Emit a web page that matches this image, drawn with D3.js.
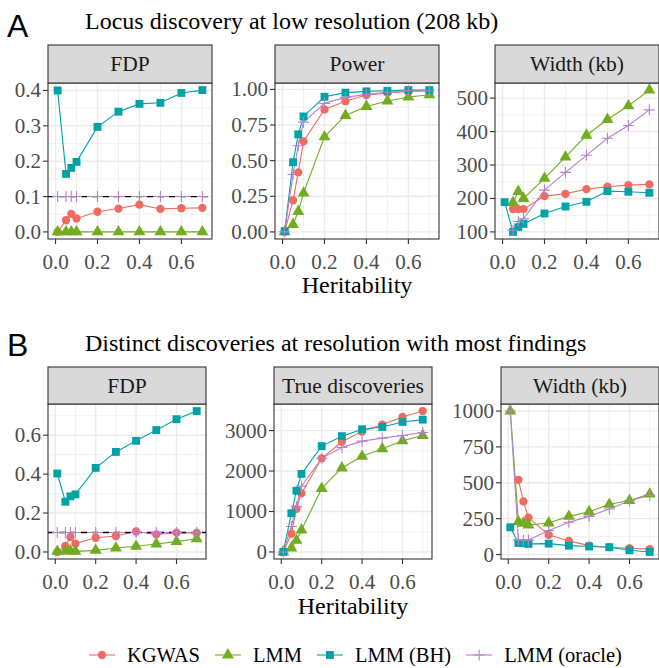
<!DOCTYPE html>
<html>
<head>
<meta charset="utf-8">
<script src="https://cdn.jsdelivr.net/npm/d3@7"></script>
<style>
  html, body { margin: 0; padding: 0; background: #fff; }
  svg { display: block; }
</style>
</head>
<body>
<svg id="chart" width="659" height="668"></svg>
<script>
// ---------------- DATA ----------------
const heritability = [0.01, 0.05, 0.075, 0.1, 0.2, 0.3, 0.4, 0.5, 0.6, 0.7];
const methods = ["KGWAS", "LMM", "LMM (BH)", "LMM (oracle)"];
const nominalFdr = 0.1;

// Row A: locus discovery at low resolution (208 kb); rows follow `methods`
const lowFdp = [
  [0.0, 0.033, 0.051, 0.038, 0.057, 0.066, 0.077, 0.065, 0.067, 0.068],
  [0.0, 0.0, 0.0, 0.0, 0.0, 0.0, 0.0, 0.0, 0.0, 0.0],
  [0.400, 0.164, 0.181, 0.198, 0.297, 0.340, 0.362, 0.365, 0.393, 0.401],
  [0.1, 0.1, 0.1, 0.1, 0.1, 0.1, 0.1, 0.1, 0.1, 0.1]
];
const lowPower = [
  [0.0, 0.222, 0.418, 0.635, 0.859, 0.917, 0.960, 0.975, 0.985, 0.990],
  [0.0, 0.052, 0.143, 0.272, 0.667, 0.817, 0.880, 0.918, 0.946, 0.962],
  [0.005, 0.489, 0.684, 0.810, 0.948, 0.977, 0.986, 0.990, 0.995, 0.995],
  [0.0, 0.403, 0.605, 0.770, 0.902, 0.944, 0.965, 0.980, 0.990, 0.990]
];
const lowWidth = [
  [null, 168, 168, 168, 207, 214, 228, 235, 240, 242],
  [null, 188, 221, 200, 260, 324, 389, 436, 477, 524],
  [189, 100, 114, 124, 155, 176, 190, 222, 220, 217],
  [null, 105, 131, 139, 225, 278, 329, 380, 418, 465]
];

// Row B: distinct discoveries at resolution with most findings
const distinctFdp = [
  [0.0, 0.031, 0.077, 0.043, 0.073, 0.082, 0.105, 0.090, 0.099, 0.098],
  [0.003, 0.005, 0.005, 0.003, 0.008, 0.020, 0.029, 0.041, 0.053, 0.068],
  [0.403, 0.258, 0.286, 0.296, 0.432, 0.514, 0.571, 0.626, 0.682, 0.724],
  [0.1, 0.1, 0.1, 0.1, 0.1, 0.1, 0.1, 0.1, 0.1, 0.1]
];
const distinctTrue = [
  [0, 450, 1063, 1447, 2314, 2723, 2976, 3148, 3336, 3483],
  [0, 98, 286, 540, 1570, 2077, 2363, 2551, 2747, 2878],
  [0, 957, 1513, 1930, 2616, 2862, 3033, 3090, 3213, 3270],
  [0, 630, 1120, 1627, 2314, 2584, 2739, 2813, 2878, 2952]
];
const distinctWidth = [
  [null, 521, 370, 257, 137, 95, 62, 51, 44, 38],
  [1000, 229, 218, 206, 220, 266, 298, 350, 377, 421],
  [190, 81, 79, 74, 76, 62, 56, 51, 30, 18],
  [1000, 102, 102, 102, 167, 225, 266, 317, 375, 414]
];

// Tick labels
const xTicks = [0, 0.2, 0.4, 0.6];
const yTicksLowFdp = [0, 0.1, 0.2, 0.3, 0.4];
const yTicksLowPower = [0, 0.25, 0.5, 0.75, 1.0];
const yTicksLowWidth = [100, 200, 300, 400, 500];
const yTicksDistinctFdp = [0, 0.2, 0.4, 0.6];
const yTicksDistinctTrue = [0, 1000, 2000, 3000];
const yTicksDistinctWidth = [0, 250, 500, 750, 1000];

const rowTitles = ["Locus discovery at low resolution (208 kb)",
                   "Distinct discoveries at resolution with most findings"];
const rowLetters = ["A", "B"];
const xTitle = "Heritability";

// ---------------- STYLE / LAYOUT ----------------
const colors = ["#EF6B60", "#72AD1F", "#00A2A5", "#B681C9"];
const serif = "'Liberation Serif', 'Times New Roman', serif";
const sans = "'Liberation Sans', Arial, sans-serif";

const rows = [
  { top: 45, stripH: 38, bottom: 239, left: [48, 275, 495], width: 164, titleY: 29, letterY: 37, axisTitleY: 293,
    panels: [
      { strip: "FDP", data: lowFdp, ticks: yTicksLowFdp, fmt: d3.format(".1f"), hline: nominalFdr },
      { strip: "Power", data: lowPower, ticks: yTicksLowPower, fmt: d3.format(".2f") },
      { strip: "Width (kb)", data: lowWidth, ticks: yTicksLowWidth, fmt: d3.format("d") }
    ] },
  { top: 367, stripH: 37, bottom: 559, left: [48, 274, 501], width: 158, titleY: 351, letterY: 356, axisTitleY: 614,
    panels: [
      { strip: "FDP", data: distinctFdp, ticks: yTicksDistinctFdp, fmt: d3.format(".1f"), hline: nominalFdr },
      { strip: "True discoveries", data: distinctTrue, ticks: yTicksDistinctTrue, fmt: d3.format("d") },
      { strip: "Width (kb)", data: distinctWidth, ticks: yTicksDistinctWidth, fmt: d3.format("d") }
    ] }
];

const svg = d3.select("#chart");
const tickFont = 21, stripFont = 21.5, titleFont = 24, axisTitleFont = 24, legendFont = 20.5;

function symbolPath(i) {
  if (i === 0) return d3.symbol().type(d3.symbolCircle).size(54)();
  if (i === 1) return d3.symbol().type(d3.symbolTriangle).size(62)();
  if (i === 2) return d3.symbol().type(d3.symbolSquare).size(62)();
  return "M-5.5,0H5.5M0,-5.5V5.5";
}

rows.forEach((row, ri) => {
  // row letter and title
  svg.append("text").attr("x", 7).attr("y", row.letterY)
    .attr("font-family", sans).attr("font-size", 32).attr("fill", "#000").text(rowLetters[ri]);
  svg.append("text").attr("x", 85).attr("y", row.titleY)
    .attr("font-family", serif).attr("font-size", titleFont).attr("fill", "#000").text(rowTitles[ri]);

  const pTop = row.top + row.stripH;
  row.panels.forEach((p, pi) => {
    const left = row.left[pi];
    const right = left + row.width;
    const x = d3.scaleLinear().domain([-0.036, 0.746]).range([left, right]);
    const vals = p.data.flat().filter(v => v !== null);
    if (p.hline !== undefined) vals.push(p.hline);
    let [mn, mx] = d3.extent(vals);
    const pad = (mx - mn) * 0.05;
    const y = d3.scaleLinear().domain([mn - pad, mx + pad]).range([row.bottom, pTop]);

    const g = svg.append("g");
    g.append("rect").attr("x", left).attr("y", pTop).attr("width", row.width).attr("height", row.bottom - pTop)
      .attr("fill", "#fff");

    // grid
    const xStep = xTicks[1] - xTicks[0];
    const xMinor = [];
    for (let v = xTicks[0] - xStep / 2; v <= 0.746; v += xStep) if (v >= -0.036) xMinor.push(v);
    const yStep = p.ticks[1] - p.ticks[0];
    const yMinor = [];
    const [d0, d1] = y.domain();
    for (let v = p.ticks[0] - yStep / 2; v <= d1; v += yStep) if (v >= d0) yMinor.push(v);

    g.selectAll(null).data(xMinor).join("line")
      .attr("x1", d => x(d)).attr("x2", d => x(d)).attr("y1", pTop).attr("y2", row.bottom)
      .attr("stroke", "#EBEBEB").attr("stroke-width", 0.7);
    g.selectAll(null).data(yMinor).join("line")
      .attr("x1", left).attr("x2", right).attr("y1", d => y(d)).attr("y2", d => y(d))
      .attr("stroke", "#EBEBEB").attr("stroke-width", 0.7);
    g.selectAll(null).data(xTicks).join("line")
      .attr("x1", d => x(d)).attr("x2", d => x(d)).attr("y1", pTop).attr("y2", row.bottom)
      .attr("stroke", "#EBEBEB").attr("stroke-width", 1.4);
    g.selectAll(null).data(p.ticks).join("line")
      .attr("x1", left).attr("x2", right).attr("y1", d => y(d)).attr("y2", d => y(d))
      .attr("stroke", "#EBEBEB").attr("stroke-width", 1.4);

    // lines
    const line = d3.line().defined(d => d[1] !== null).x(d => x(d[0])).y(d => y(d[1]));
    p.data.forEach((series, mi) => {
      const pts = heritability.map((h, k) => [h, series[k]]);
      g.append("path").attr("d", line(pts)).attr("fill", "none")
        .attr("stroke", colors[mi]).attr("stroke-width", 1.1);
    });
    if (p.hline !== undefined) {
      g.append("line").attr("x1", left).attr("x2", right).attr("y1", y(p.hline)).attr("y2", y(p.hline))
        .attr("stroke", "#000").attr("stroke-width", 1.3).attr("stroke-dasharray", "6,5");
    }
    // points
    p.data.forEach((series, mi) => {
      const pts = heritability.map((h, k) => [h, series[k]]).filter(d => d[1] !== null);
      g.selectAll(null).data(pts).join("path")
        .attr("d", symbolPath(mi))
        .attr("transform", d => `translate(${x(d[0])},${y(d[1])})`)
        .attr("fill", mi === 3 ? "none" : colors[mi])
        .attr("stroke", mi === 3 ? colors[mi] : "none")
        .attr("stroke-width", 1.1);
    });

    // panel border
    g.append("rect").attr("x", left).attr("y", pTop).attr("width", row.width).attr("height", row.bottom - pTop)
      .attr("fill", "none").attr("stroke", "#333").attr("stroke-width", 1.1);
    // strip
    g.append("rect").attr("x", left).attr("y", row.top).attr("width", row.width).attr("height", row.stripH)
      .attr("fill", "#D9D9D9").attr("stroke", "#333").attr("stroke-width", 1.1);
    g.append("text").attr("x", (left + right) / 2).attr("y", row.top + row.stripH / 2)
      .attr("text-anchor", "middle").attr("dominant-baseline", "central")
      .attr("font-family", serif).attr("font-size", stripFont).attr("fill", "#1A1A1A").text(p.strip);

    // y axis
    g.selectAll(null).data(p.ticks).join("line")
      .attr("x1", left - 5).attr("x2", left).attr("y1", d => y(d)).attr("y2", d => y(d))
      .attr("stroke", "#333").attr("stroke-width", 1.1);
    g.selectAll(null).data(p.ticks).join("text")
      .attr("x", left - 7).attr("y", d => y(d)).attr("text-anchor", "end").attr("dominant-baseline", "central")
      .attr("font-family", serif).attr("font-size", tickFont).attr("fill", "#4D4D4D").text(d => p.fmt(d));
    // x axis
    g.selectAll(null).data(xTicks).join("line")
      .attr("x1", d => x(d)).attr("x2", d => x(d)).attr("y1", row.bottom).attr("y2", row.bottom + 5)
      .attr("stroke", "#333").attr("stroke-width", 1.1);
    g.selectAll(null).data(xTicks).join("text")
      .attr("x", d => x(d)).attr("y", row.bottom + 23).attr("text-anchor", "middle").attr("dominant-baseline", "central")
      .attr("font-family", serif).attr("font-size", tickFont).attr("fill", "#4D4D4D").text(d => d3.format(".1f")(d));

    if (pi === 1) {
      svg.append("text").attr("x", (left + right) / 2).attr("y", row.axisTitleY).attr("text-anchor", "middle")
        .attr("font-family", serif).attr("font-size", axisTitleFont).attr("fill", "#000").text(xTitle);
    }
  });
});

// legend
const legendY = 655;
let lx = 89;
methods.forEach((m, mi) => {
  const lg = svg.append("g");
  lg.append("line").attr("x1", lx).attr("x2", lx + 26).attr("y1", legendY).attr("y2", legendY)
    .attr("stroke", colors[mi]).attr("stroke-width", 1.1);
  lg.append("path").attr("d", symbolPath(mi)).attr("transform", `translate(${lx + 13},${legendY})`)
    .attr("fill", mi === 3 ? "none" : colors[mi]).attr("stroke", mi === 3 ? colors[mi] : "none").attr("stroke-width", 1.1);
  const t = lg.append("text").attr("x", lx + 38).attr("y", legendY).attr("dominant-baseline", "central")
    .attr("font-family", serif).attr("font-size", legendFont).attr("fill", "#000").text(m);
  lx = lx + 38 + t.node().getComputedTextLength() + 15;
});
</script>
</body>
</html>
